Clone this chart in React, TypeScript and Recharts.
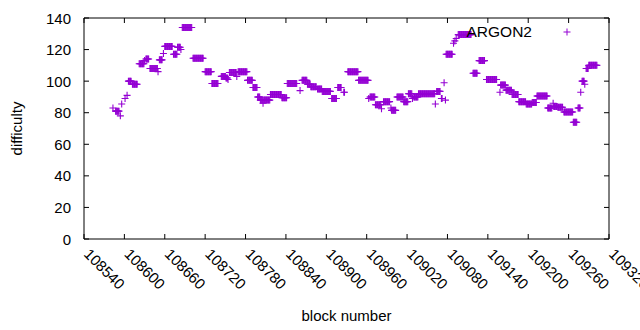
import { ScatterChart, Scatter, XAxis, YAxis, ReferenceArea, Legend, Label } from 'recharts';

// runs of identical difficulty: first block, last block, value
const runStart = [
  108583, 108587, 108594, 108596, 108601, 108604, 108606, 108612, 108622, 108630,
  108632, 108638, 108650, 108652, 108658, 108660, 108673, 108679, 108684, 108686,
  108702, 108720, 108730, 108744, 108751, 108754, 108756, 108767, 108769, 108783,
  108791, 108798, 108802, 108806, 108807, 108817, 108834, 108842, 108861, 108864,
  108872, 108877, 108887, 108894, 108908, 108917, 108926, 108932, 108948, 108963,
  108965, 108973, 108982, 108985, 108996, 108997, 109005, 109015, 109022, 109028,
  109030, 109037, 109062, 109064, 109071, 109075, 109077, 109078, 109089, 109091,
  109093, 109096, 109118, 109127, 109138, 109158, 109159, 109167, 109176, 109186,
  109197, 109206, 109213, 109229, 109237, 109238, 109244, 109253, 109267, 109274,
  109278, 109280, 109284, 109286, 109290,
];
const runEnd = [
  108583, 108592, 108594, 108596, 108601, 108604, 108610, 108619, 108629, 108630,
  108636, 108649, 108650, 108656, 108658, 108671, 108678, 108683, 108684, 108700,
  108717, 108729, 108739, 108750, 108753, 108754, 108766, 108767, 108782, 108790,
  108797, 108801, 108805, 108806, 108816, 108833, 108841, 108856, 108861, 108871,
  108876, 108885, 108893, 108906, 108915, 108922, 108927, 108947, 108962, 108963,
  108972, 108981, 108982, 108994, 108996, 109003, 109014, 109021, 109027, 109028,
  109036, 109061, 109062, 109069, 109072, 109075, 109077, 109087, 109089, 109091,
  109093, 109115, 109124, 109135, 109153, 109158, 109166, 109175, 109185, 109196,
  109205, 109212, 109228, 109235, 109237, 109243, 109251, 109266, 109272, 109277,
  109278, 109283, 109284, 109289, 109302,
];
const runValue = [
  83, 81, 78, 85.5, 89, 91, 100, 98, 111, 113,
  114, 108, 106, 113.5, 117.5, 122, 117, 121.5, 120, 134,
  114.5, 106, 98.5, 103, 102, 101, 105.5, 103, 106, 100.5,
  96, 90, 88, 86, 88, 91.5, 89.5, 98.5, 94, 100.5,
  98, 96.5, 95, 93.5, 89, 96, 93, 106, 100.5, 89,
  90, 85, 82.5, 87, 83, 81.5, 90, 87, 92, 89,
  90, 92, 85.5, 93.5, 89, 99, 88, 117, 124, 125.5,
  127, 129.5, 105, 113, 101, 93, 97.5, 94.3, 91.5, 87,
  85.5, 86.5, 90.6, 83, 86, 84, 83.5, 80.5, 74, 83,
  93, 100, 98, 108, 110,
];

const xTicks = [
  108540, 108600, 108660, 108720, 108780, 108840, 108900, 108960,
  109020, 109080, 109140, 109200, 109260, 109320,
];
const yTicks = [0, 20, 40, 60, 80, 100, 120, 140];
const seriesName = 'ARGON2';

const PURPLE = '#9400d3';
const FONT = '"Liberation Sans", Arial, sans-serif';
const PLOT_W = 525;
const PLOT_H = 221;

const data = runStart.flatMap((start, i) => {
  const pts: { block: number; difficulty: number }[] = [];
  for (let b = start; b <= runEnd[i]; b++) pts.push({ block: b, difficulty: runValue[i] });
  return pts;
});

const Plus = ({ cx, cy }: any) => (
  <path d={`M${cx - 3.5},${cy}h7M${cx},${cy - 3.5}v7`} stroke={PURPLE} strokeWidth={1.1} fill="none" />
);

const XTick = ({ x, y, payload }: any) => (
  <g>
    <line x1={x} y1={y} x2={x} y2={y - 5} stroke="#000" />
    <line x1={x} y1={y - PLOT_H} x2={x} y2={y - PLOT_H + 5} stroke="#000" />
    <text x={x - 1} y={y + 16} transform={`rotate(45 ${x - 1} ${y + 16})`} fontSize={15} fill="#000">
      {payload.value}
    </text>
  </g>
);

const YTick = ({ x, y, payload }: any) => (
  <g>
    <line x1={x} y1={y} x2={x + 5} y2={y} stroke="#000" />
    <line x1={x + PLOT_W} y1={y} x2={x + PLOT_W - 5} y2={y} stroke="#000" />
    <text x={x - 13} y={y} textAnchor="end" dominantBaseline="central" fontSize={15} fill="#000">
      {payload.value}
    </text>
  </g>
);

const YTitle = ({ viewBox }: any) => {
  const cy = viewBox.y + viewBox.height / 2;
  return (
    <text x={16} y={cy} transform={`rotate(-90 16 ${cy})`} textAnchor="middle" dominantBaseline="central" fontSize={15}>
      difficulty
    </text>
  );
};

const LegendBox = () => (
  <div style={{ position: 'relative', height: 20, fontFamily: FONT, fontSize: 15.5 }}>
    <span style={{ position: 'absolute', right: 640 - 532, top: 0, lineHeight: '20px' }}>{seriesName}</span>
    <svg style={{ position: 'absolute', left: 560, top: 3 }} width={14} height={14}>
      <path d="M3.5,7h7M7,3.5v7" stroke={PURPLE} fill="none" />
    </svg>
  </div>
);

export default function App() {
  return (
    <div style={{ position: 'absolute', left: 0, top: 0, width: 640, height: 330, background: '#fff', fontFamily: FONT }}>
      <ScatterChart width={640} height={330} margin={{ top: 18, right: 31, bottom: 0, left: 0 }}>
        <XAxis
          type="number"
          dataKey="block"
          domain={[108540, 109320]}
          ticks={xTicks}
          tick={<XTick />}
          tickSize={0}
          tickMargin={0}
          axisLine={false}
          height={91}
          interval={0}
        >
          <Label value="block number" position="insideBottom" offset={9} fontSize={15} fill="#000" />
        </XAxis>
        <YAxis
          type="number"
          dataKey="difficulty"
          domain={[0, 140]}
          ticks={yTicks}
          tick={<YTick />}
          tickSize={0}
          tickMargin={0}
          axisLine={false}
          width={84}
          interval={0}
        >
          <Label content={<YTitle />} />
        </YAxis>
        <ReferenceArea x1={108540} x2={109320} y1={0} y2={140} fill="none" stroke="#000" strokeWidth={1} />
        <Legend
          verticalAlign="middle"
          align="center"
          content={<LegendBox />}
          wrapperStyle={{ top: 22, left: 0, width: 640 }}
        />
        <Scatter name={seriesName} data={data} shape={<Plus />} isAnimationActive={false} />
      </ScatterChart>
    </div>
  );
}
